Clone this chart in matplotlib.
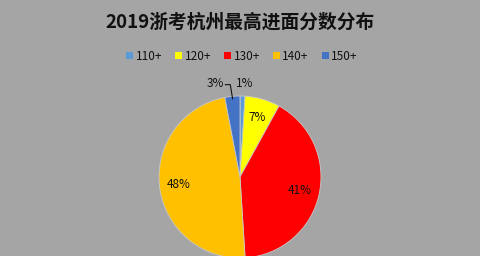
import numpy as np
import matplotlib
matplotlib.use('Agg')
import matplotlib.pyplot as plt
from matplotlib.patches import Patch

plt.rcParams['font.family'] = ['Noto Sans CJK SC', 'DejaVu Sans']

# Data
labels = ['110+', '120+', '130+', '140+', '150+']
shares = [1, 7, 41, 48, 3]
colors = ['#5B9BD5', '#FFFF00', '#FF0000', '#FFC000', '#4472C4']
title = '2019浙考杭州最高进面分数分布'

bg = '#A5A5A5'
fig = plt.figure(figsize=(4.81, 2.56), dpi=100, facecolor=bg)

fig.text(0.5, 0.912, title, ha='center', va='center', fontsize=13.5,
         fontweight='bold', color='#111111')

# Pie axes (square in pixels)
r_px = 81
cx, cy = 240, 256 - 177
ax = fig.add_axes([(cx - r_px) / 481, (cy - r_px) / 256,
                   2 * r_px / 481, 2 * r_px / 256])
ax.set_facecolor(bg)
ax.axis('off')

wedges, _ = ax.pie(shares, colors=colors, startangle=90, counterclock=False,
                   radius=1, wedgeprops=dict(linewidth=0.6, edgecolor='#C8C8C8'))
for w in wedges:
    w.set_clip_on(False)
ax.set_xlim(-1, 1)
ax.set_ylim(-1, 1)
ax.set_aspect('equal')

total = sum(shares)
for w, s in zip(wedges, shares):
    mid = np.deg2rad((w.theta1 + w.theta2) / 2)
    pct = f'{round(100 * s / total)}%'
    if s / total > 0.05:
        ax.text(0.76 * np.cos(mid), 0.76 * np.sin(mid), pct, ha='center',
                va='center', fontsize=8.5, color='#111111')

# small slices labelled outside
ax.text(0.06, 1.15, f'{shares[0]}%', ha='center', va='center', fontsize=8.5,
        color='#111111')

w5 = wedges[4]
mid5 = np.deg2rad((w5.theta1 + w5.theta2) / 2)
ax.text(-0.2, 1.15, f'{shares[4]}%', ha='right', va='center', fontsize=8.5,
        color='#111111')
ex, ey = 0.97 * np.cos(mid5), 0.97 * np.sin(mid5)
ax.plot([-0.18, -0.12, ex], [1.14, 1.14, ey], color='#111111', lw=0.8,
        clip_on=False)

handles = [Patch(facecolor=c, edgecolor='none') for c in colors]
fig.legend(handles, labels, loc='center', bbox_to_anchor=(0.503, 0.78),
           ncol=5, frameon=False, fontsize=8.5, handlelength=0.6,
           handleheight=0.6, handletextpad=0.2, columnspacing=1.1,
           labelcolor='#111111')

fig.savefig('out.png', dpi=100, facecolor=bg)
